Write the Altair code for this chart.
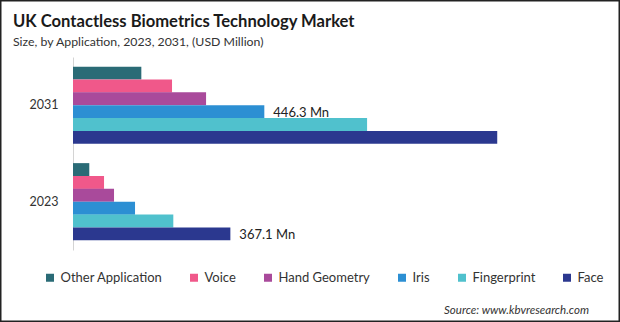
import altair as alt
import pandas as pd

years = ["2031", "2023"]
applications = ["Other Application", "Voice", "Hand Geometry", "Iris", "Fingerprint", "Face"]
colors = ["#2a6b76", "#f0588a", "#a94a9b", "#2c8fd3", "#50c1cd", "#2b388f"]
values_2031 = [159.4, 231.0, 310.4, 446.3, 686.0, 989.6]
values_2023 = [38.0, 72.4, 95.7, 144.7, 234.0, 367.1]
labels_2031 = ["", "", "", "446.3  Mn", "", ""]
labels_2023 = ["", "", "", "", "", "367.1 Mn"]
title_text = "UK Contactless Biometrics  Technology Market"
subtitle_text = "Size, by Application, 2023, 2031, (USD Million)"
source_text = "Source: www.kbvresearch.com"

rows = []
for yr, vals, labs in [("2031", values_2031, labels_2031), ("2023", values_2023, labels_2023)]:
    for app, v, lab in zip(applications, vals, labs):
        rows.append({"year": yr, "application": app, "value": v, "label": lab})
df = pd.DataFrame(rows)

FONT = "Lato"
W, H = 535, 193
PL, PT = 73, 57
PR = 620 - PL - W
PB = 322 - PT - H

y_enc = alt.Y("year:N", sort=years, title=None,
              scale=alt.Scale(paddingInner=0.2, paddingOuter=0.1),
              axis=alt.Axis(ticks=False, labelPadding=15, labelFontSize=12.5,
                            labelColor="#333333", labelFont=FONT,
                            domainColor="#d4d4d4", domainWidth=1))
yoff_enc = alt.YOffset("application:N", sort=applications,
                       scale=alt.Scale(domain=applications, paddingInner=0, paddingOuter=0))
x_enc = alt.X("value:Q", scale=alt.Scale(domain=[0, 1248], nice=False), axis=None)

bars = alt.Chart(df).mark_bar(size=12.9).encode(
    x=x_enc,
    y=y_enc,
    yOffset=yoff_enc,
    color=alt.Color("application:N", sort=applications,
                    scale=alt.Scale(domain=applications, range=colors),
                    legend=alt.Legend(title=None, orient="none", direction="horizontal",
                                      legendX=-29.5, legendY=214, columns=6,
                                      symbolType="square", symbolSize=64,
                                      symbolStrokeWidth=0, columnPadding=25,
                                      labelFontSize=13, labelFont=FONT,
                                      labelColor="#333333", labelOffset=4, padding=0)),
)

labels = alt.Chart(df).mark_text(align="left", baseline="middle", dx=9, dy=1,
                                 fontSize=13, font=FONT, color="#222222").encode(
    x=x_enc,
    y=alt.Y("year:N", sort=years),
    yOffset=yoff_enc,
    text="label:N",
)

title = alt.Chart(pd.DataFrame({"t": [title_text]})).mark_text(
    align="left", baseline="alphabetic", fontSize=16.6, font=FONT, fontWeight="bold",
    color="#1a1a1a").encode(
    x=alt.value(13 - PL), y=alt.value(27 - PT), text="t:N")

subtitle = alt.Chart(pd.DataFrame({"t": [subtitle_text]})).mark_text(
    align="left", baseline="alphabetic", fontSize=12.3, font=FONT,
    color="#333333").encode(
    x=alt.value(13 - PL), y=alt.value(46 - PT), text="t:N")

source = alt.Chart(pd.DataFrame({"t": [source_text]})).mark_text(
    align="right", baseline="middle", fontSize=11.5, font=FONT, fontStyle="italic",
    color="#333333").encode(
    x=alt.value(589 - PL), y=alt.value(311 - PT), text="t:N")

border = alt.Chart(pd.DataFrame({"b": [1]})).mark_rect(
    fill=None, stroke="#222222", strokeWidth=1.5).encode(
    x=alt.value(-PL + 0.75), x2=alt.value(620 - PL - 0.75),
    y=alt.value(-PT + 0.75), y2=alt.value(322 - PT - 0.75))

chart = alt.layer(bars, labels, title, subtitle, source, border).properties(
    width=W, height=H,
    autosize=alt.AutoSizeParams(type="none"),
    padding={"left": PL, "top": PT, "right": PR, "bottom": PB},
    background="white",
).configure_view(stroke=None)

chart.save("out.html", embed_options={"renderer": "svg", "actions": False})
